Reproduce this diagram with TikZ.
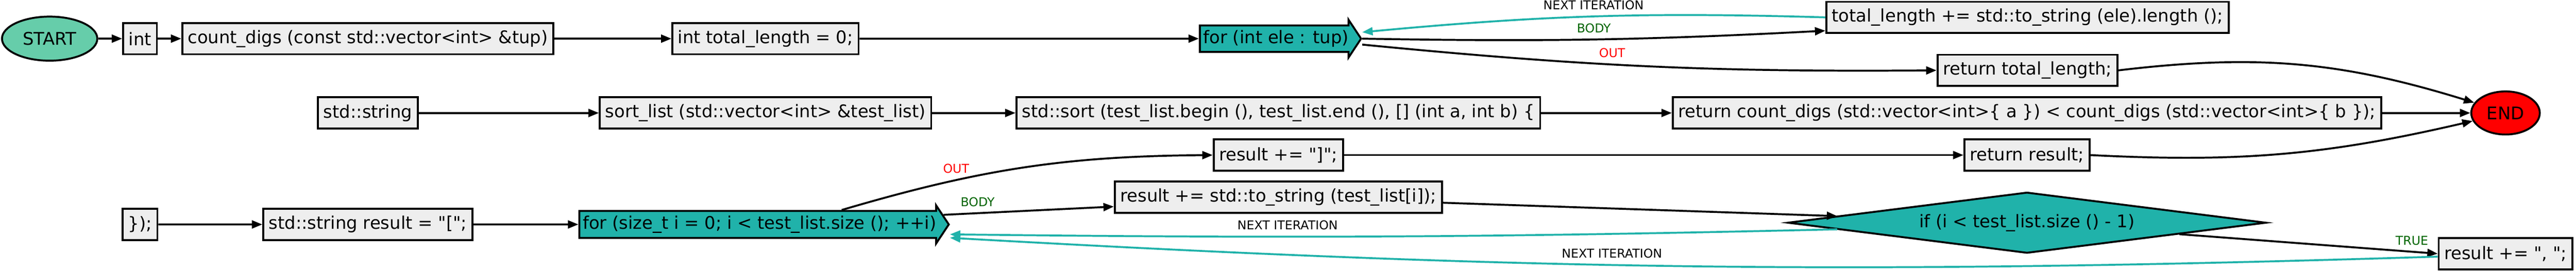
\documentclass[tikz,border=0pt]{standalone}
\usepackage{fontspec}
\setmainfont{DejaVu Sans}[Ligatures=TeXOff]
\usetikzlibrary{shapes.geometric,shapes.arrows,arrows.meta}
\definecolor{startgreen}{RGB}{102,205,170}
\definecolor{loopteal}{RGB}{32,178,170}
\definecolor{bodygreen}{RGB}{0,100,0}
\definecolor{stmtgray}{RGB}{238,238,238}

\begin{document}
\begin{tikzpicture}[>={Triangle[length=2.1mm,width=1.6mm]}, line width=1.1pt,
    stmt/.style={draw, fill=stmtgray, minimum height=0.63cm, inner xsep=0.11cm},
    term/.style={draw, ellipse, inner sep=0pt},
    loophead/.style={draw, fill=loopteal, single arrow, single arrow head extend=0.115cm,
      single arrow tip angle=113, single arrow head indent=0cm, inner xsep=0.05cm, inner ysep=0.078cm},
    cond/.style={draw, fill=loopteal, diamond, aspect=7.8, minimum width=9.64cm, minimum height=1.23cm, inner sep=0pt},
    back/.style={->, loopteal},
    tag/.style={font=\fontsize{7}{8}\selectfont, text=black}]
      \useasboundingbox (0,0) rectangle (51.89,-5.48);
      \node [term, fill=startgreen, minimum width=1.92cm, minimum height=0.89cm] (1) at (1.00,-0.78) {START};
      \node [stmt, right of=1, xshift=0.82cm] (2) {int};
      \node [stmt, right of=2, xshift=3.59cm] (3) {count\_digs (const std::vector<int> \&tup)};
      \node [stmt, right of=3, xshift=7.01cm] (4) {int total\_length = 0;};
      \node [loophead, right of=4, xshift=7.73cm, anchor=tail] (5) {for (int ele : tup)};
      \node [stmt, right of=4, xshift=24.42cm, yshift=0.43cm] (6) {total\_length += std::to\_string (ele).length ();};
      \node [stmt, right of=4, xshift=24.42cm, yshift=-0.64cm] (7) {return total\_length;};

      \node [stmt, below of=3, yshift=-0.5cm] (8) {std::string};
      \node [stmt, right of=8, xshift=7.01cm] (9) {sort\_list (std::vector<int> \&test\_list)};
      \node [stmt, right of=9, xshift=9.33cm] (10) {std::sort (test\_list.begin (), test\_list.end (), [] (int a, int b) \{};
      \node [stmt, right of=10, xshift=14.08cm] (11) {return count\_digs (std::vector<int>\{ a \}) < count\_digs (std::vector<int>\{ b \});};
      \node [term, fill=red, right of=11, xshift=8.64cm, minimum width=1.38cm, minimum height=0.87cm] (12) {END};
      \node [stmt, below of=10, yshift=0.15cm] (13) {result += "]";};
      \node [stmt, below of=11, yshift=0.15cm] (14) {return result;};

      \node [stmt, below of=2, yshift=-2.75cm] (15) {\});};
      \node [stmt, below of=8, yshift=-1.25cm] (16) {std::string result = "[";};
      \node [loophead, right of=16, xshift=3.24cm, anchor=tail] (17) {for (size\_t i = 0; i < test\_list.size (); ++i)};
      \node [stmt, below of=13, yshift=0.15cm] (18) {result += std::to\_string (test\_list[i]);};
      \node [cond, below of=14, yshift=-0.365cm] (19) {if (i < test\_list.size () - 1)};
      \node [stmt, below of=12, yshift=-1.84cm] (20) {result += ", ";};

      \draw [->] (1) -- (2);
      \draw [->] (2) -- (3);
      \draw [->] (3) -- (4);
      \draw [->] (4) -- (5);
      \draw [->] (5.tip) to [bend right=2] node [above, tag, text=bodygreen] {BODY} ([yshift=-2.7mm]6.west);
      \draw [back] (6.west) to [bend right=3.5] node [above, tag] {NEXT ITERATION} ([yshift=1.3mm]5.tip);
      \draw [->] ([yshift=-1.2mm]5.tip) to [bend right=3] node [above, tag, text=red, pos=0.43] {OUT} (7.west);
      \draw [->] (7.east) to [bend left=12] (12);

      \draw [->] (8) -- (9);
      \draw [->] (9) -- (10);
      \draw [->] (10) -- (11);
      \draw [->] (11) -- (12);
      \draw [->] (13) -- (14);
      \draw [->] (14.east) to [bend right=8] (12);

      \draw [->] (15) -- (16);
      \draw [->] (16) -- (17);
      \draw [->] (17.10) to [bend left=8] node [above, tag, text=red, pos=0.3] {OUT} (13.west);
      \draw [->] (17.3) -- node [above, tag, text=bodygreen, pos=0.2] {BODY} ([yshift=-1.9mm]18.west);
      \draw [->] (18) -- (19.178);
      \draw [back] (19.182) to [bend left=1] node [above, tag, pos=0.63] {NEXT ITERATION} ([yshift=-2mm]17.tip);
      \draw [->] (19) -- node [above, tag, text=bodygreen, pos=0.9] {TRUE} (20.west);
      \draw [back] ([yshift=-0.6mm]20.west) to [bend left=2.5] node [above, tag, pos=0.56] {NEXT ITERATION} ([yshift=-2.7mm]17.tip);
    \end{tikzpicture}
\end{document}
